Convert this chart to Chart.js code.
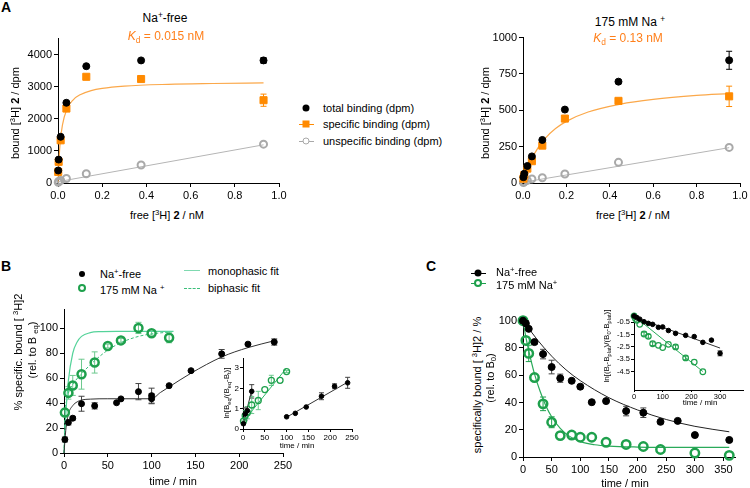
<!DOCTYPE html>
<html>
<head>
<meta charset="utf-8">
<script src="https://cdn.jsdelivr.net/npm/chart.js@4.4.1/dist/chart.umd.min.js"></script>
<style>
  body { margin: 0; width: 750px; height: 488px; position: relative; background: #fff; overflow: hidden;
         font-family: 'Liberation Sans', Arial, sans-serif; color: #000; }
  canvas { position: absolute; }
  .t { position: absolute; white-space: nowrap; transform: translate(-50%, -50%); font-size: 11px; line-height: 1; }
  .r { transform: translate(-50%, -50%) rotate(-90deg); }
  .l { position: absolute; white-space: nowrap; transform: translate(0, -50%); font-size: 11px; line-height: 1; }
  .big { font-size: 12px; }
  .letter { font-size: 14px; font-weight: bold; }
  .small { font-size: 8px; }
  .mk { position: absolute; transform: translate(-50%, -50%); box-sizing: border-box; }
  .ln { position: absolute; height: 0; }
  sup { font-size: 70%; vertical-align: 0; position: relative; top: -0.5em; }
  sub { font-size: 70%; vertical-align: 0; position: relative; top: 0.3em; }
</style>
</head>
<body>
<canvas id="aFree"></canvas>
<canvas id="aNa"></canvas>
<canvas id="bMain"></canvas>
<canvas id="bInset"></canvas>
<canvas id="cMain"></canvas>
<canvas id="cInset"></canvas>

<!-- panel letters -->
<div class="t letter" style="left:6px;top:7px">A</div>
<div class="t letter" style="left:6px;top:266px">B</div>
<div class="t letter" style="left:431px;top:266px">C</div>

<!-- A texts -->
<div class="t big" style="left:165px;top:18px">Na<sup>+</sup>-free</div>
<div class="t big" style="left:166px;top:36px;color:#ff7f1a"><i>K</i><sub>d</sub> = 0.015 nM</div>
<div class="t r" style="left:15px;top:113px">bound [<sup>3</sup>H] <b>2</b> / dpm</div>
<div class="t" style="left:167px;top:215px">free [<sup>3</sup>H] <b>2</b> / nM</div>
<div class="t big" style="left:630px;top:22px">175 mM Na <sup>+</sup></div>
<div class="t big" style="left:628px;top:38px;color:#ff7f1a"><i>K</i><sub>d</sub> = 0.13 nM</div>
<div class="t r" style="left:485px;top:113px">bound [<sup>3</sup>H] <b>2</b> / dpm</div>
<div class="t" style="left:633px;top:215px">free [<sup>3</sup>H] <b>2</b> / nM</div>

<!-- A legend -->
<div class="mk" style="left:306px;top:108px;width:7px;height:7px;border-radius:50%;background:#000"></div>
<div class="l" style="left:323px;top:108px">total binding (dpm)</div>
<div class="ln" style="left:299px;top:124px;width:15px;border-top:1px solid #ff8a00"></div>
<div class="mk" style="left:306px;top:124px;width:7px;height:7px;background:#ff8a00"></div>
<div class="l" style="left:323px;top:124px">specific binding (dpm)</div>
<div class="ln" style="left:299px;top:141px;width:15px;border-top:1px solid #a9a9a9"></div>
<div class="mk" style="left:306px;top:141px;width:7px;height:7px;border-radius:50%;border:1.5px solid #a9a9a9;background:#fff"></div>
<div class="l" style="left:323px;top:141px">unspecific binding (dpm)</div>

<!-- B texts -->
<div class="mk" style="left:82px;top:274px;width:6px;height:6px;border-radius:50%;background:#000"></div>
<div class="l" style="left:100px;top:274px">Na<sup>+</sup>-free</div>
<div class="mk" style="left:82px;top:288px;width:8px;height:8px;border-radius:50%;border:2px solid #1ea04c"></div>
<div class="l" style="left:100px;top:290px">175 mM Na <sup>+</sup></div>
<div class="ln" style="left:184px;top:270px;width:16px;border-top:1.5px solid #7fd9b0"></div>
<div class="l" style="left:208px;top:271px">monophasic fit</div>
<div class="ln" style="left:184px;top:288px;width:16px;border-top:1px dashed #3bbf7a"></div>
<div class="l" style="left:208px;top:288px">biphasic fit</div>
<div class="t r" style="left:18px;top:352px">% specific. bound [ <sup>3</sup>H]2</div>
<div class="t r" style="left:32px;top:350px">(rel. to B <sub>eq</sub>)</div>
<div class="t" style="left:173px;top:481px">time / min</div>
<div class="t r small" style="left:227px;top:393px">ln[B<sub>eq</sub>/(B<sub>eq</sub>-B<sub>t</sub>)]</div>
<div class="t small" style="left:297px;top:446px">time / min</div>

<!-- C texts -->
<div class="ln" style="left:471px;top:273px;width:15px;border-top:1px solid #000"></div>
<div class="mk" style="left:478px;top:273px;width:7px;height:7px;border-radius:50%;background:#000"></div>
<div class="l" style="left:496px;top:272px">Na<sup>+</sup>-free</div>
<div class="ln" style="left:471px;top:283px;width:15px;border-top:1px solid #1ea04c"></div>
<div class="mk" style="left:478px;top:283px;width:8px;height:8px;border-radius:50%;border:2px solid #1ea04c;background:#fff"></div>
<div class="l" style="left:496px;top:285px">175 mM Na<sup>+</sup></div>
<div class="t r" style="left:477px;top:385px">specifically bound [ <sup>3</sup>H]2 / %</div>
<div class="t r" style="left:490px;top:378px">(rel. to B<sub>0</sub>)</div>
<div class="t" style="left:625px;top:483px">time / min</div>
<div class="t r small" style="left:607px;top:346px">ln[(B<sub>t</sub>-B<sub>plat</sub>)/(B<sub>0</sub>-B<sub>plat</sub>)]</div>
<div class="t small" style="left:700px;top:403px">time / min</div>

<script>
const FONT = "'Liberation Sans', Arial, sans-serif"
const BLACK = '#000'
const ORANGE = '#ff8a00'
const GRAY = '#a9a9a9'
const GREEN = '#1ea04c'

// A, Na+-free saturation (free nM -> dpm)
const aFreeX = [0.001, 0.003, 0.012, 0.038, 0.128, 0.376, 0.93]
const aFreeTotal = [390, 730, 1440, 2500, 3640, 3820, 3820]
const aFreeTotalErr = [0, 0, 0, 0, 0, 0, 90]
const aFreeSpecific = [345, 660, 1330, 2320, 3310, 3240, 2580]
const aFreeSpecificErr = [0, 0, 0, 0, 0, 0, 190]
const aFreeUnspecific = [20, 45, 80, 140, 290, 560, 1210]
const aFreeFitX = [0, 0.002, 0.005, 0.01, 0.02, 0.04, 0.07, 0.1, 0.15, 0.2, 0.3, 0.5, 0.7, 0.93]
const aFreeFitY = [0, 370, 790, 1265, 1805, 2300, 2600, 2750, 2880, 2950, 3020, 3075, 3100, 3120]
const aFreeLineX = [0, 0.93]
const aFreeLineY = [40, 1190]
const aXTicks = [0, 0.2, 0.4, 0.6, 0.8, 1.0]
const aFreeYTicks = [0, 1000, 2000, 3000, 4000]

// A, 175 mM Na+ saturation
const aNaX = [0.002, 0.006, 0.02, 0.041, 0.089, 0.193, 0.44, 0.95]
const aNaTotal = [40, 64, 117, 183, 296, 505, 697, 844]
const aNaTotalErr = [0, 0, 0, 0, 0, 0, 0, 62]
const aNaSpecific = [30, 55, 99, 150, 257, 443, 565, 596]
const aNaSpecificErr = [0, 0, 0, 0, 0, 0, 15, 70]
const aNaUnspecific = [3, 8, 18, 28, 36, 62, 142, 245]
const aNaFitX = [0, 0.01, 0.02, 0.05, 0.1, 0.15, 0.2, 0.3, 0.45, 0.6, 0.8, 0.95]
const aNaFitY = [0, 50, 93, 195, 304, 375, 424, 488, 543, 575, 602, 615]
const aNaLineX = [0, 0.95]
const aNaLineY = [5, 243]
const aNaYTicks = [0, 250, 500, 750, 1000]

// B, association kinetics (% of B eq)
const bFreeT = [1, 5, 10, 20, 35, 60, 65, 85, 100, 100, 120, 145, 180, 210, 240]
const bFree = [10.8, 24.5, 27.9, 39.5, 37.8, 40.3, 43.4, 49.2, 46, 43.5, 54, 66, 79.5, 87.3, 89]
const bFreeErr = [2, 2, 1.5, 6, 2.5, 0, 0, 6.5, 6, 4, 0, 0, 3.5, 1, 2.5]
const bNaT = [1, 5, 10, 20, 35, 50, 65, 85, 100, 120]
const bNa = [32.4, 48.2, 54.2, 63.2, 72.6, 85.8, 90.3, 100.3, 96, 92.4]
const bNaErr = [3, 5, 8, 12, 8.5, 1.5, 1.5, 4.5, 1.5, 4]
const bFreeFitT = [0, 2, 5, 10, 15, 20, 30, 50, 100, 110, 120, 145, 180, 210, 240]
const bFreeFitY = [0, 18, 31, 38, 41, 42.5, 43.2, 43.5, 43.5, 48.5, 53, 64, 77, 84.5, 90]
const bMonoT = [0, 2, 5, 10, 15, 20, 30, 40, 60, 125]
const bMonoY = [0, 30, 58, 80, 89, 93.5, 96.5, 97.3, 97.5, 97.5]
const bBiT = [0, 1, 3, 5, 10, 20, 35, 50, 65, 85, 100, 120]
const bBiY = [0, 30, 42, 48, 55, 63.5, 74, 82.5, 88.5, 93.5, 95.5, 97]
const bXTicks = [0, 50, 100, 150, 200, 250]
const bYTicks = [0, 20, 40, 60, 80, 100]

// B inset, ln[Beq/(Beq-Bt)]
const biFreeEarlyT = [1, 5, 10, 20]
const biFreeEarly = [0.26, 0.74, 0.9, 1.85]
const biFreeEarlyErr = [0.05, 0.3, 0.2, 0.33]
const biFreeLateT = [100, 120, 145, 180, 210, 240]
const biFreeLate = [0.6, 0.77, 1.08, 1.61, 2.1, 2.27]
const biFreeLateErr = [0, 0, 0, 0.17, 0.12, 0.27]
const biNaT = [1, 5, 10, 20, 35, 50, 65, 85, 100]
const biNa = [0.39, 0.65, 0.8, 1.18, 1.4, 1.94, 2.39, 2.39, 2.82]
const biNaErr = [0.05, 0.25, 0.3, 0.42, 0.45, 0, 0.25, 0, 0.05]
const biFreeEarlyLineT = [0, 20]
const biFreeEarlyLineY = [0.2, 1.9]
const biFreeLateLineT = [100, 240]
const biFreeLateLineY = [0.58, 2.3]
const biNaLineT = [0, 100]
const biNaLineY = [0.35, 3.0]
const biYTicks = [0, 1, 2, 3]

// C, dissociation kinetics (% of B0)
const cFreeT = [0, 5, 10, 20, 35, 50, 65, 85, 100, 120, 145, 180, 210, 240, 270, 300, 360]
const cFree = [100, 98, 94, 84.3, 75.5, 66, 57.8, 55.9, 51.6, 40.2, 41, 33.7, 32.5, 25.8, 26.5, 16.1, 12.5]
const cFreeErr = [0, 2, 0, 1.5, 3.5, 5, 3, 0, 0, 0, 0, 3.5, 3.5, 0, 0, 0, 0]
const cNaT = [0, 5, 10, 20, 35, 50, 65, 85, 100, 120, 145, 180, 210, 240, 300, 360]
const cNa = [100, 85.5, 76, 58.3, 39, 25.5, 15.7, 16.1, 14.5, 14.5, 10.8, 9.2, 7.7, 5.5, 2.9, 1.2]
const cNaErr = [0, 0, 6, 0, 5, 4, 0, 0, 0, 0, 0, 0, 0, 0, 0, 0]
const cFreeFitT = [0, 25, 50, 75, 100, 150, 200, 250, 300, 360]
const cFreeFitY = [100, 86, 74, 64, 56, 43.5, 34.5, 27.5, 22.5, 18.5]
const cNaFitT = [0, 5, 10, 20, 30, 40, 50, 65, 80, 100, 125, 150, 200, 250, 360]
const cNaFitY = [100, 88, 78, 61, 48, 37.5, 29.5, 21, 15.5, 11.3, 9, 8, 7.3, 7.1, 7]
const cXTicks = [0, 50, 100, 150, 200, 250, 300, 350]
const cYTicks = [0, 20, 40, 60, 80, 100]

// C inset, ln[(Bt-Bplat)/(B0-Bplat)]
const ciFreeT = [0, 10, 20, 35, 50, 65, 85, 100, 120, 145, 180, 210, 240, 270, 300]
const ciFree = [0, -0.13, -0.26, -0.47, -0.6, -0.68, -0.92, -0.89, -1.18, -1.41, -1.57, -1.67, -2.14, -1.96, -3.03]
const ciFreeErr = [0, 0, 0, 0, 0, 0, 0, 0, 0, 0, 0, 0, 0, 0, 0.2]
const ciNaT = [0, 5, 10, 20, 35, 50, 65, 85, 100, 120, 145, 180, 210, 240]
const ciNa = [0, -0.2, -0.34, -0.68, -1.46, -1.65, -2.25, -2.38, -2.56, -2.3, -2.51, -3.4, -3.74, -4.52]
const ciNaErr = [0, 0, 0, 0, 0.15, 0.15, 0.15, 0, 0, 0, 0.15, 0.15, 0, 0]
const ciFreeLineT = [0, 300]
const ciFreeLineY = [-0.08, -2.6]
const ciNaLineT = [0, 240]
const ciNaLineY = [0, -4.5]
const ciXTicks = [0, 100, 200, 300]
const ciYTicks = [-4.5, -3.5, -2.5, -1.5, -0.5]

function pts(xs, ys) {
  return xs.map((x, i) => ({ x, y: ys[i] }))
}

// draws vertical error bars from dataset.errors, under the markers
const errorBars = {
  id: 'errorBars',
  beforeDatasetsDraw(chart) {
    const { ctx, scales: { x, y } } = chart
    chart.data.datasets.forEach(ds => {
      if (!ds.errors) return
      ctx.save()
      ctx.strokeStyle = ds.errColor || ds.borderColor
      ctx.lineWidth = 1
      ds.data.forEach((p, j) => {
        const e = ds.errors[j]
        if (!e) return
        const px = x.getPixelForValue(p.x)
        const top = y.getPixelForValue(p.y + e)
        const bot = y.getPixelForValue(p.y - e)
        const w = ds.capWidth || 3
        ctx.beginPath()
        ctx.moveTo(px, top); ctx.lineTo(px, bot)
        ctx.moveTo(px - w, top); ctx.lineTo(px + w, top)
        ctx.moveTo(px - w, bot); ctx.lineTo(px + w, bot)
        ctx.stroke()
      })
      ctx.restore()
    })
  }
}

function marks(data, color, radius, opts) {
  return Object.assign({
    data, showLine: false, clip: false, order: 0,
    pointRadius: radius, pointBackgroundColor: color, pointBorderColor: color,
    pointBorderWidth: 1, borderColor: color, backgroundColor: color,
  }, opts || {})
}

function ring(data, color, radius, width, opts) {
  return marks(data, color, radius, Object.assign({
    pointBackgroundColor: 'rgba(255,255,255,0)', pointBorderWidth: width,
  }, opts || {}))
}

function fit(data, color, width, dash) {
  return {
    data, borderColor: color, borderWidth: width, borderDash: dash || [],
    pointRadius: 0, cubicInterpolationMode: 'monotone', clip: false, fill: false, order: 1,
  }
}

function axis(min, max, tickValues, size, fmt, tickLen, pad) {
  return {
    type: 'linear', min, max,
    afterBuildTicks: s => { s.ticks = tickValues.map(value => ({ value })) },
    ticks: {
      color: '#000', padding: pad === undefined ? 2 : pad,
      font: { family: FONT, size },
      callback: fmt || (v => v),
    },
    grid: { drawOnChartArea: false, color: '#000', tickLength: tickLen || 4, lineWidth: 1 },
    border: { color: '#000', width: 1 },
  }
}

// box = [left, top, right, bottom] of the plot area on the page, pad = [yAxisW, top, right, xAxisH]
function plot(id, box, pad, datasets, xAxis, yAxis) {
  const c = document.getElementById(id)
  c.width = box[2] - box[0] + pad[0] + pad[2]
  c.height = box[3] - box[1] + pad[1] + pad[3]
  c.style.left = (box[0] - pad[0]) + 'px'
  c.style.top = (box[1] - pad[1]) + 'px'
  xAxis.afterFit = s => { s.height = pad[3] }
  yAxis.afterFit = s => { s.width = pad[0] }
  new Chart(c, {
    type: 'line',
    data: { datasets },
    options: {
      responsive: false,
      animation: false,
      events: [],
      layout: { autoPadding: false, padding: { left: 0, top: pad[1], right: pad[2], bottom: 0 } },
      scales: { x: xAxis, y: yAxis },
      plugins: { legend: { display: false }, tooltip: { enabled: false } },
    },
    plugins: [errorBars],
  })
}

const f1 = v => v.toFixed(1)

plot('aFree', [58, 38, 279, 183], [40, 8, 14, 24], [
  marks(pts(aFreeX, aFreeTotal), BLACK, 3.5, { errors: aFreeTotalErr }),
  marks(pts(aFreeX, aFreeSpecific), ORANGE, 5, { pointStyle: 'rect', errors: aFreeSpecificErr, errColor: ORANGE }),
  ring(pts(aFreeX, aFreeUnspecific), GRAY, 3.5, 2),
  fit(pts(aFreeFitX, aFreeFitY), '#fba84a', 1.2),
  fit(pts(aFreeLineX, aFreeLineY), '#b5b5b5', 1),
], axis(0, 1, aXTicks, 11, f1), axis(0, 4500, aFreeYTicks, 11))

plot('aNa', [523, 37, 740, 183], [40, 8, 14, 24], [
  marks(pts(aNaX, aNaTotal), BLACK, 3.5, { errors: aNaTotalErr }),
  marks(pts(aNaX, aNaSpecific), ORANGE, 5, { pointStyle: 'rect', errors: aNaSpecificErr, errColor: ORANGE }),
  ring(pts(aNaX, aNaUnspecific), GRAY, 3.5, 2),
  fit(pts(aNaFitX, aNaFitY), '#fba84a', 1.2),
  fit(pts(aNaLineX, aNaLineY), '#b5b5b5', 1),
], axis(0, 1, aXTicks, 11, f1), axis(0, 1000, aNaYTicks, 11))

plot('bMain', [64, 307, 283, 453], [30, 6, 14, 22], [
  marks(pts(bFreeT, bFree), BLACK, 3, { errors: bFreeErr, errColor: '#444' }),
  ring(pts(bNaT, bNa), GREEN, 4, 2.5, { errors: bNaErr, errColor: '#6cc98e' }),
  fit(pts(bFreeFitT, bFreeFitY), '#333', 1),
  fit(pts(bMonoT, bMonoY), '#55d39a', 1.2),
  fit(pts(bBiT, bBiY), '#3bbf7a', 1, [3, 2]),
], axis(0, 250, bXTicks, 11), axis(0, 115, bYTicks, 11))

plot('bInset', [243, 357, 352, 429], [12, 4, 10, 14], [
  marks(pts(biFreeEarlyT, biFreeEarly), BLACK, 2.3, { errors: biFreeEarlyErr, errColor: '#444', capWidth: 2.5 }),
  marks(pts(biFreeLateT, biFreeLate), BLACK, 2.3, { errors: biFreeLateErr, errColor: '#444', capWidth: 2.5 }),
  ring(pts(biNaT, biNa), GREEN, 3, 1.3, { errors: biNaErr, errColor: '#6cc98e', capWidth: 2.5 }),
  fit(pts(biFreeEarlyLineT, biFreeEarlyLineY), '#333', 1),
  fit(pts(biFreeLateLineT, biFreeLateLineY), '#333', 1),
  fit(pts(biNaLineT, biNaLineY), '#2fb86a', 1),
], axis(0, 250, bXTicks, 8, null, 3, 1), axis(0, 3.45, biYTicks, 8, null, 3, 1))

plot('cMain', [523, 314, 735, 457], [30, 6, 10, 22], [
  marks(pts(cFreeT, cFree), BLACK, 3.5, { errors: cFreeErr, errColor: '#444' }),
  ring(pts(cNaT, cNa), GREEN, 4.2, 2.5, { errors: cNaErr, errColor: GREEN }),
  fit(pts(cFreeFitT, cFreeFitY), '#222', 1),
  fit(pts(cNaFitT, cNaFitY), '#2aaa5a', 1.2),
], axis(0, 370, cXTicks, 11), axis(0, 103, cYTicks, 11))

plot('cInset', [634, 312, 743, 390], [18, 4, 6, 12], [
  marks(pts(ciFreeT, ciFree), BLACK, 2.3, { errors: ciFreeErr, errColor: '#444', capWidth: 2.5 }),
  ring(pts(ciNaT, ciNa), GREEN, 2.8, 1.2, { errors: ciNaErr, errColor: GREEN, capWidth: 2.5 }),
  fit(pts(ciFreeLineT, ciFreeLineY), '#333', 1),
  fit(pts(ciNaLineT, ciNaLineY), '#2aaa5a', 1),
], axis(0, 380, ciXTicks, 7.5, null, 2, 0), axis(-6, 0.2, ciYTicks, 7.5, null, 3, 1))
</script>
</body>
</html>
